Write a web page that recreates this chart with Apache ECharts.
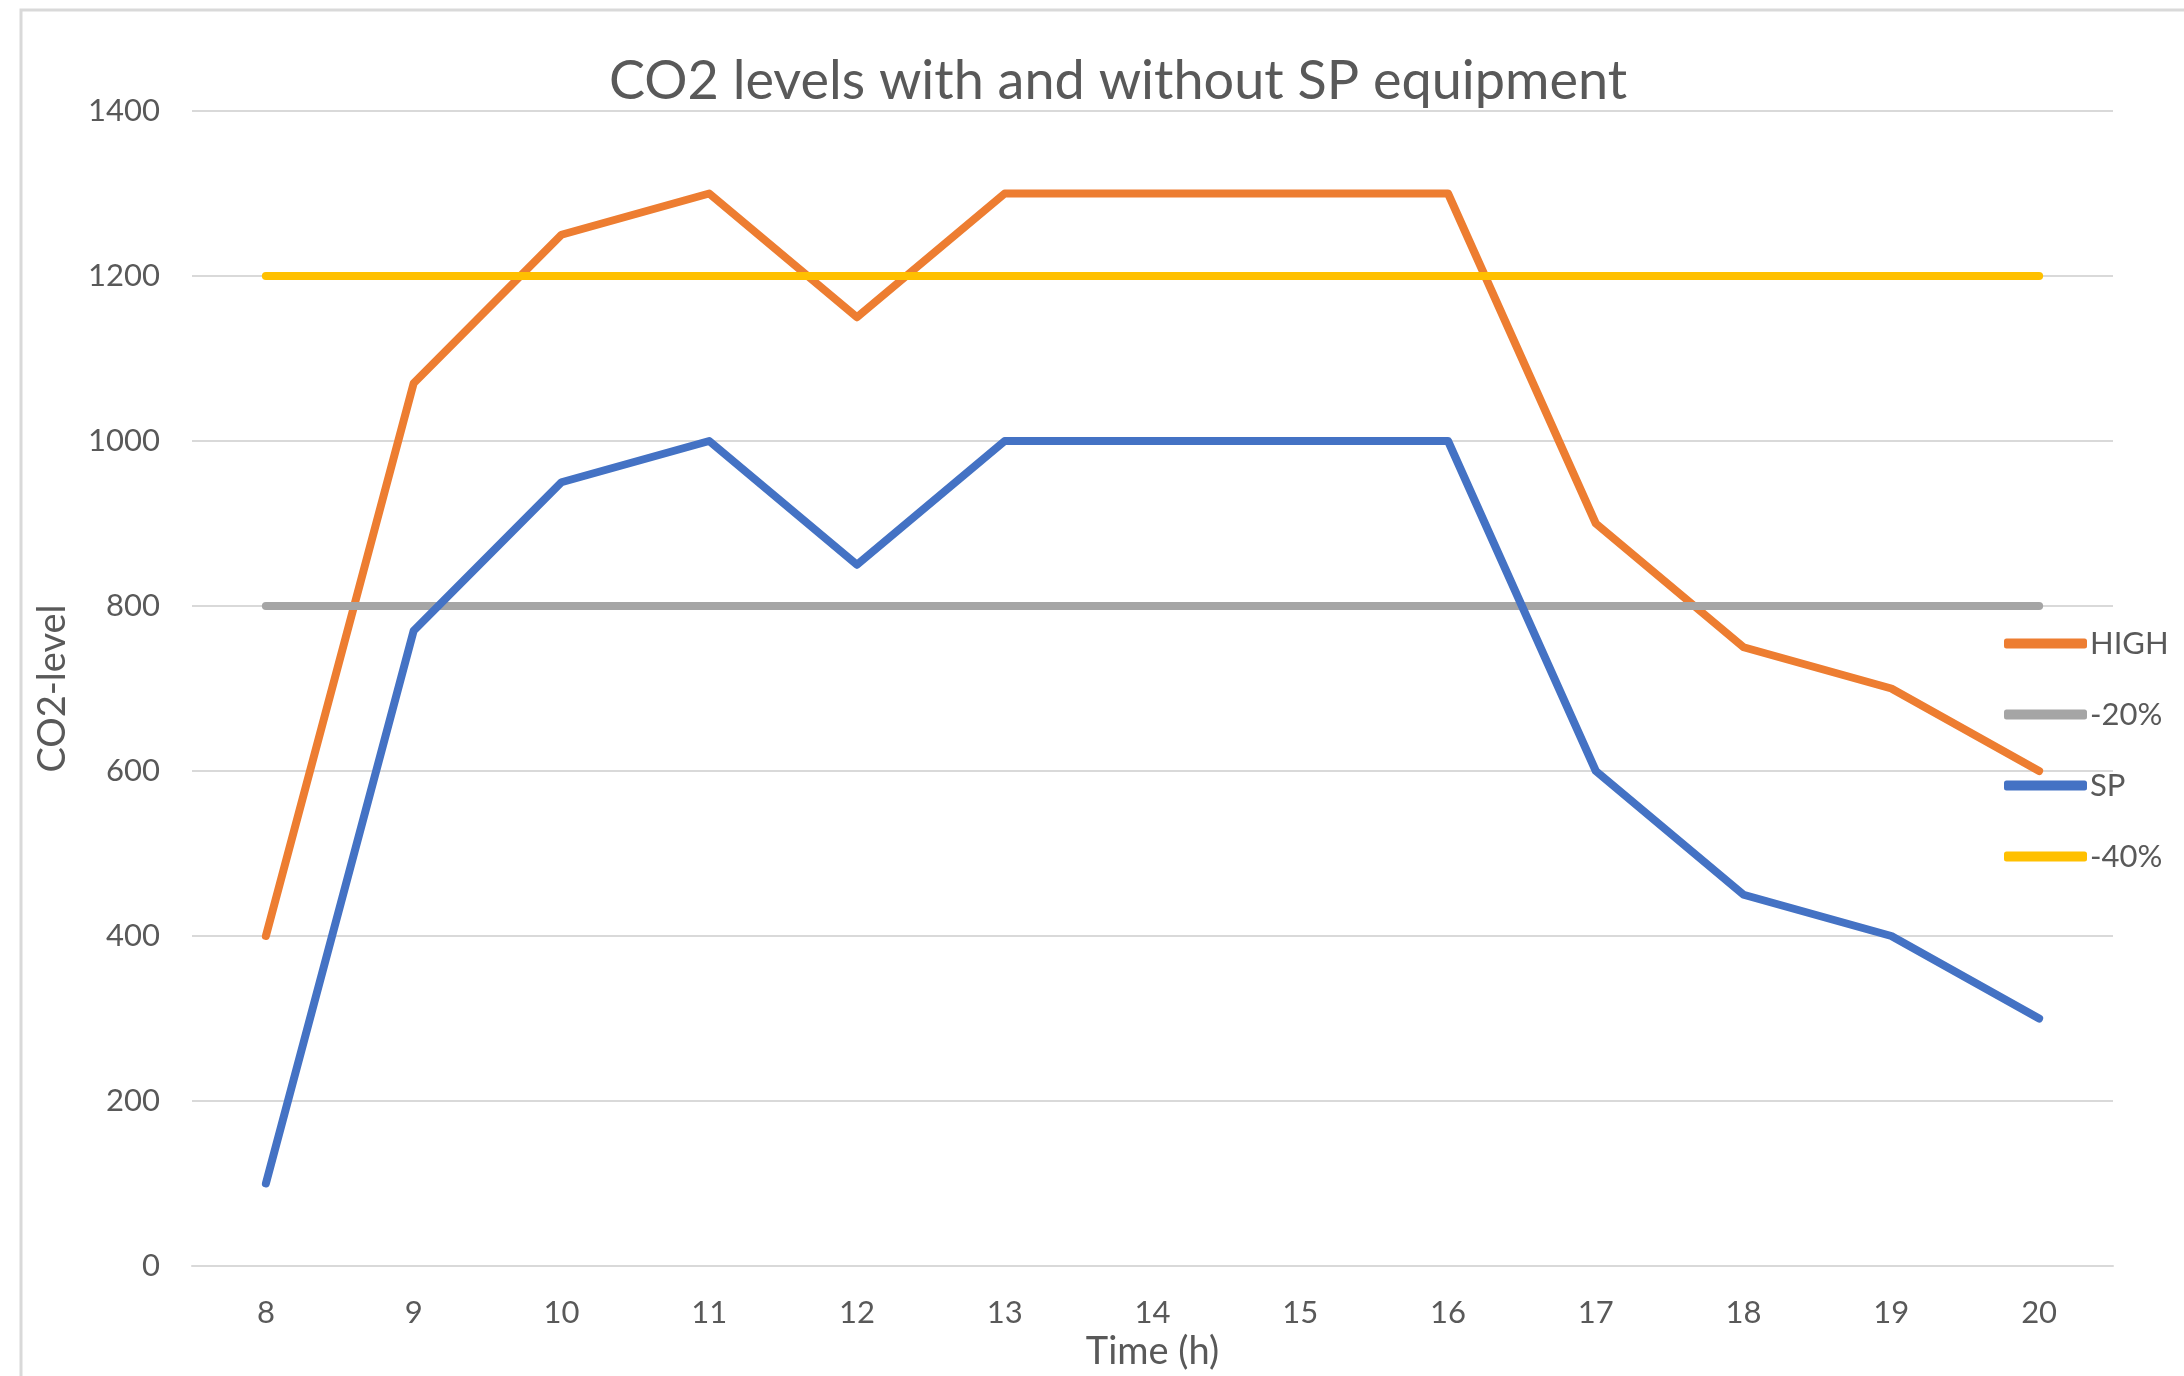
<!DOCTYPE html>
<html>
<head>
    <meta charset="utf-8">
    <title>CO2 levels</title>
    <script src="https://cdn.jsdelivr.net/npm/echarts@6/dist/echarts.min.js"></script>
    <style>
        html, body { margin: 0; padding: 0; background: #fff; }
    </style>
</head>
<body>
    <div id="main" style="width: 2184px;height:1376px;"></div>
    <script type="text/javascript">
        // data
        var hours = ['8', '9', '10', '11', '12', '13', '14', '15', '16', '17', '18', '19', '20'];
        var high = [400, 1070, 1250, 1300, 1150, 1300, 1300, 1300, 1300, 900, 750, 700, 600];
        var minus20 = [800, 800, 800, 800, 800, 800, 800, 800, 800, 800, 800, 800, 800];
        var sp = [100, 770, 950, 1000, 850, 1000, 1000, 1000, 1000, 600, 450, 400, 300];
        var minus40 = [1200, 1200, 1200, 1200, 1200, 1200, 1200, 1200, 1200, 1200, 1200, 1200, 1200];

        var font = 'Lato';
        var textColor = '#595959';
        var gridColor = '#d9d9d9';

        function line(name, data, color) {
            return {
                name: name,
                type: 'line',
                data: data,
                symbol: 'none',
                color: color,
                lineStyle: { width: 8, color: color, cap: 'round', join: 'round' }
            };
        }

        var myChart = echarts.init(document.getElementById('main'));
        var option = {
            backgroundColor: '#fff',
            animation: false,
            textStyle: { fontFamily: font, color: textColor },
            graphic: [{
                type: 'rect',
                shape: { x: 21, y: 10, width: 2300, height: 1500 },
                style: { fill: 'none', stroke: gridColor, lineWidth: 3 },
                silent: true
            }],
            title: {
                text: 'CO2 levels with and without SP equipment',
                left: 604,
                top: 50,
                textStyle: { fontFamily: font, fontSize: 54, fontWeight: 'normal', color: textColor }
            },
            legend: {
                orient: 'vertical',
                left: 1999,
                top: 623,
                itemWidth: 83,
                itemHeight: 10,
                itemGap: 40,
                icon: 'roundRect',
                textStyle: { fontFamily: font, fontSize: 31, color: textColor, padding: [0, 0, 0, -2] },
                data: ['HIGH', '-20%', 'SP', '-40%']
            },
            grid: { left: 192, right: 71, top: 111, bottom: 110 },
            xAxis: {
                type: 'category',
                data: hours,
                boundaryGap: true,
                name: 'Time (h)',
                nameLocation: 'middle',
                nameGap: 66,
                nameTextStyle: { fontFamily: font, fontSize: 38, color: textColor },
                axisLine: { lineStyle: { color: gridColor, width: 2 } },
                axisTick: { show: false },
                axisLabel: { fontFamily: font, fontSize: 31, color: textColor, margin: 31 }
            },
            yAxis: {
                type: 'value',
                min: 0,
                max: 1400,
                interval: 200,
                name: 'CO2-level',
                nameLocation: 'middle',
                nameGap: 120,
                nameTextStyle: { fontFamily: font, fontSize: 38, color: textColor },
                axisLine: { show: false },
                axisTick: { show: false },
                axisLabel: {
                    fontFamily: font, fontSize: 31, color: textColor, margin: 32,
                    formatter: function (v) { return String(v); }
                },
                splitLine: { lineStyle: { color: gridColor, width: 2 } }
            },
            series: [
                line('HIGH', high, '#ED7D31'),
                line('-20%', minus20, '#A5A5A5'),
                line('SP', sp, '#4472C4'),
                line('-40%', minus40, '#FFC000')
            ]
        };
        myChart.setOption(option);
    </script>
</body>
</html>
